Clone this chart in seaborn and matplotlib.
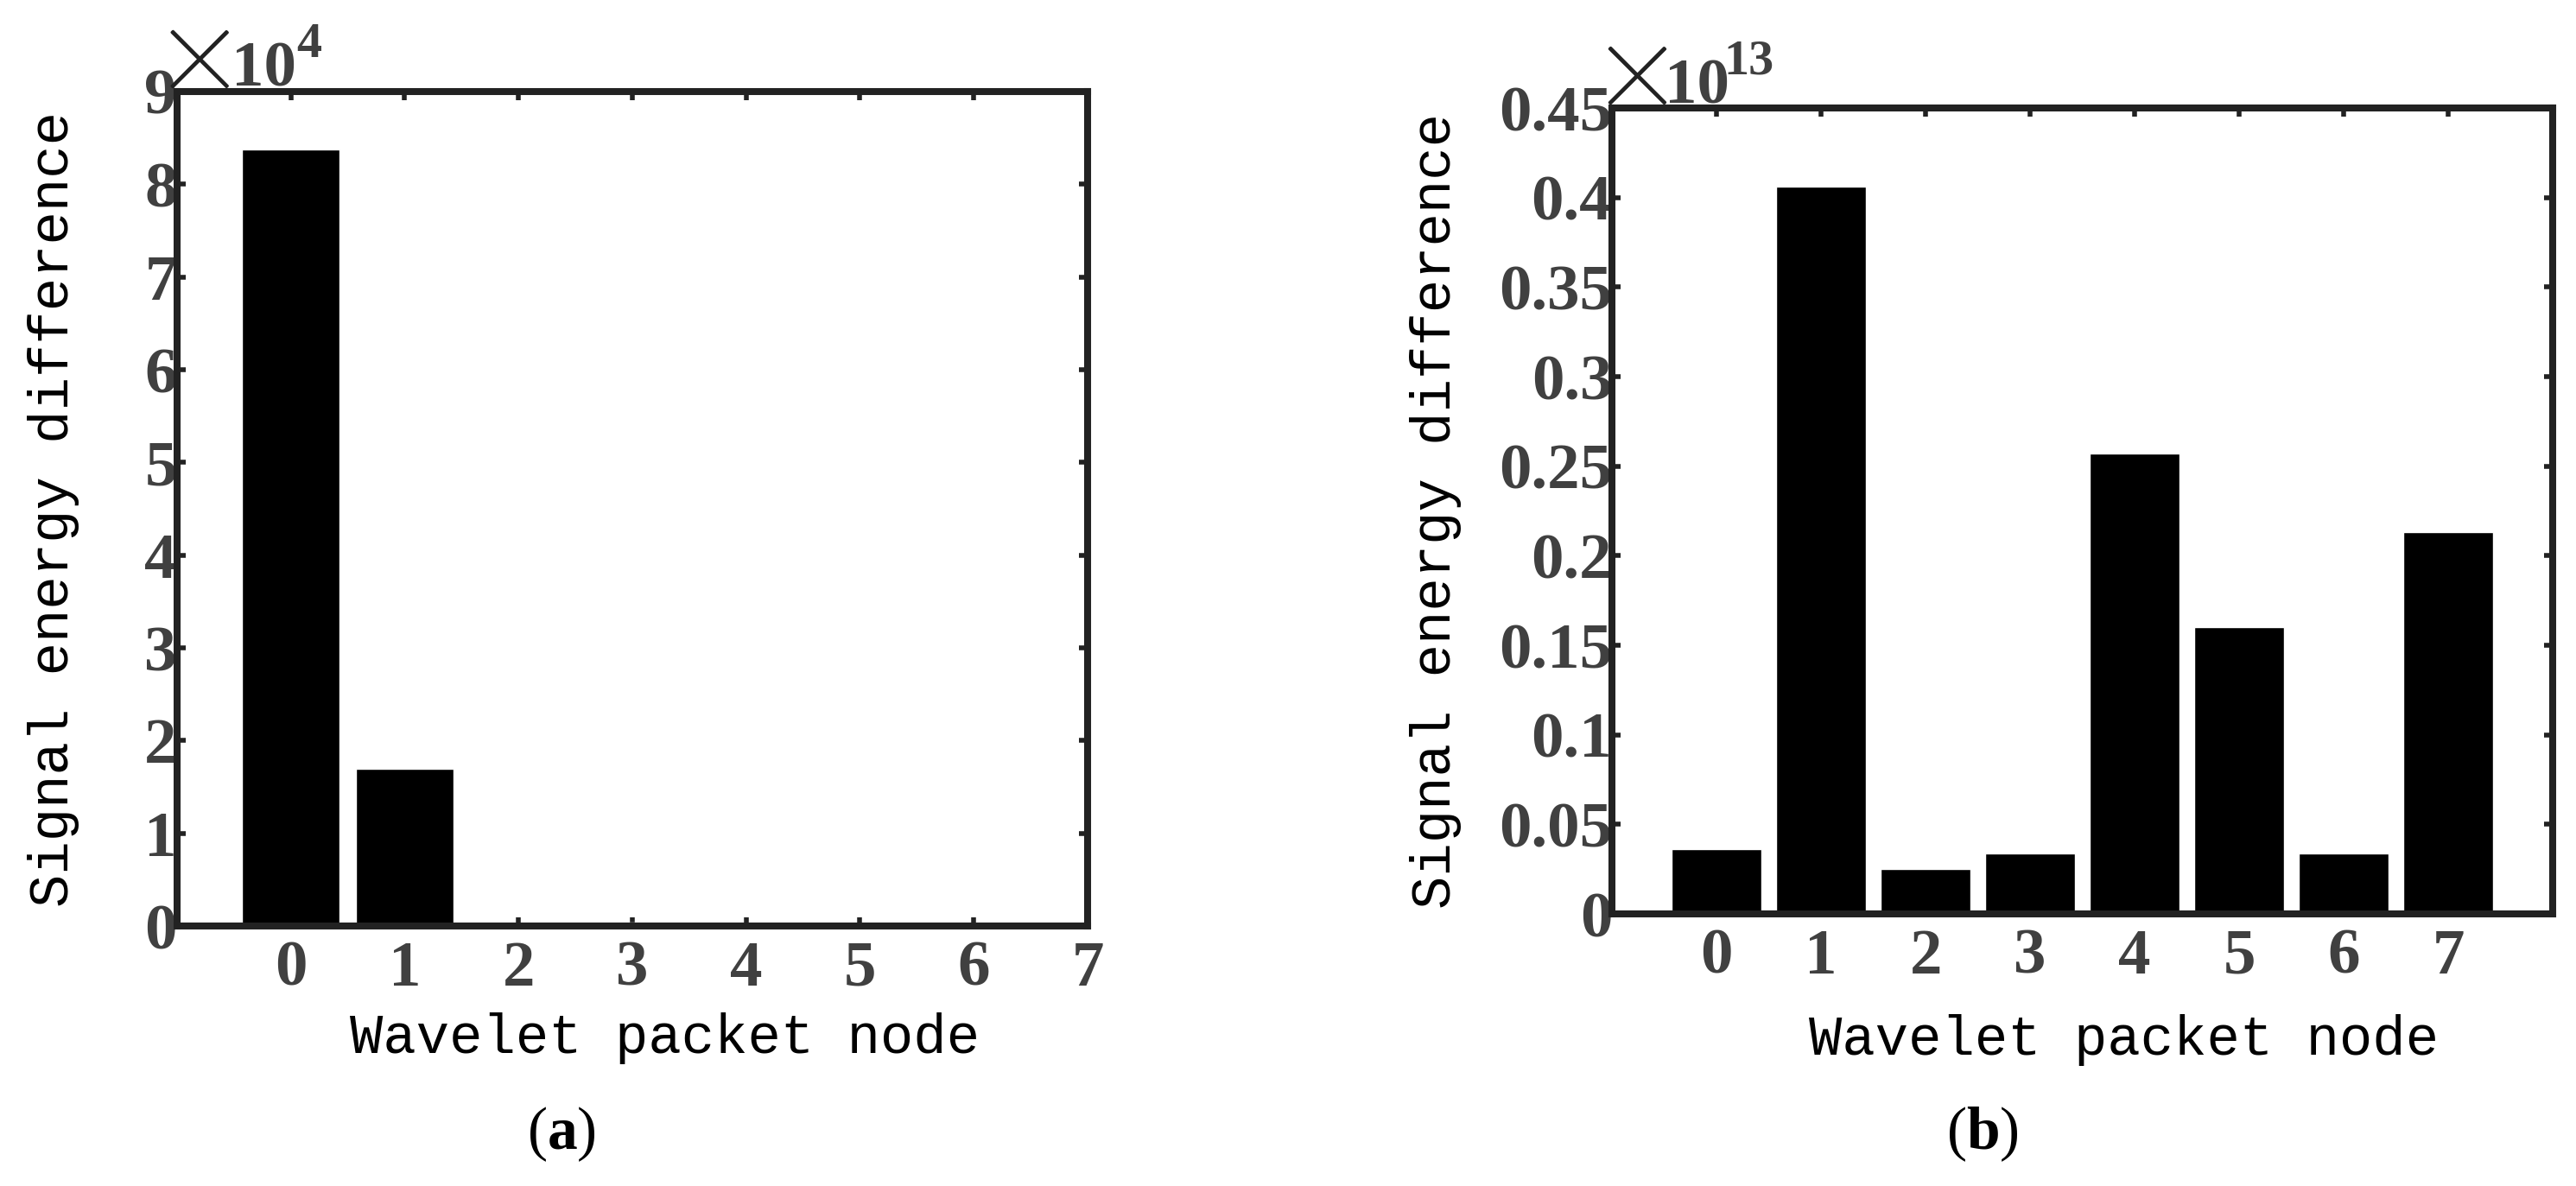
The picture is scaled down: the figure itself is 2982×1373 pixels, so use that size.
import matplotlib
matplotlib.use('Agg')
import matplotlib.pyplot as plt
import matplotlib.patheffects as pe
import seaborn as sns

# Data
nodes = [0, 1, 2, 3, 4, 5, 6, 7]
energy_a = [8.38e4, 1.70e4, 200, 350, 100, 100, 100, 100]
energy_b = [0.036e13, 0.406e13, 0.025e13, 0.034e13, 0.257e13, 0.160e13, 0.034e13, 0.213e13]
scale_a = 1e4
scale_b = 1e13
yticks_a = [0, 1, 2, 3, 4, 5, 6, 7, 8, 9]
yticks_b = [0, 0.05, 0.1, 0.15, 0.2, 0.25, 0.3, 0.35, 0.4, 0.45]
ylabels_b = ['0', '0.05', '0.1', '0.15', '0.2', '0.25', '0.3', '0.35', '0.4', '0.45']
xlabel = 'Wavelet packet node'
ylabel = 'Signal energy difference'

sns.set_style('ticks')
plt.rcParams['font.family'] = ['Liberation Serif', 'DejaVu Sans']
plt.rcParams['mathtext.fontset'] = 'custom'
plt.rcParams['mathtext.rm'] = 'Liberation Serif'
plt.rcParams['mathtext.bf'] = 'Liberation Serif:bold'

SPINE = '#222222'
TICKTXT = '#404040'


def style_axes(ax, yticks, ylabels, ylim, xlim):
    ax.set_xlim(*xlim)
    ax.set_ylim(*ylim)
    ax.set_xticks(nodes)
    ax.set_xticklabels([str(n) for n in nodes])
    ax.set_yticks(yticks)
    ax.set_yticklabels(ylabels)
    for s in ax.spines.values():
        s.set_visible(True)
        s.set_color(SPINE)
        s.set_linewidth(5.8)
    ax.tick_params(axis='both', direction='in', top=True, right=True,
                   length=7, width=4, color=SPINE, labelcolor=TICKTXT,
                   labelsize=54)
    ax.tick_params(axis='y', pad=0)
    ax.tick_params(axis='x', pad=12)
    for lab in ax.get_xticklabels() + ax.get_yticklabels():
        lab.set_fontweight('bold')
        lab.set_family('Liberation Serif')
    ax.set_xlabel(xlabel, family='Liberation Mono', fontsize=46, color='black')
    ax.set_ylabel(ylabel, family='Liberation Mono', fontsize=46, color='black')


def multiplier(ax, exponent, dx_cross, dx_ten, dx_exp):
    # the "x10^n" factor drawn above the top-left corner of the axes
    ax.annotate('\u00d7', xy=(0, 1), xycoords='axes fraction',
                xytext=(dx_cross, -16), textcoords='offset pixels',
                ha='left', va='baseline', fontsize=115, color=SPINE,
                family='Lato', fontweight='light', annotation_clip=False,
                path_effects=[pe.withStroke(linewidth=2.2, foreground=SPINE)])
    ax.annotate('10', xy=(0, 1), xycoords='axes fraction',
                xytext=(dx_ten, 6), textcoords='offset pixels',
                ha='left', va='baseline', fontsize=54, color=TICKTXT,
                fontweight='bold', family='Liberation Serif', annotation_clip=False)
    ax.annotate(exponent, xy=(0, 1), xycoords='axes fraction',
                xytext=(dx_exp, 40), textcoords='offset pixels',
                ha='left', va='baseline', fontsize=42, color=TICKTXT,
                fontweight='bold', family='Liberation Serif', annotation_clip=False)


fig = plt.figure(figsize=(29.82, 13.73), dpi=100)
ax_a = fig.add_axes([0.0687, 0.2192, 0.3535, 0.7036])
ax_b = fig.add_axes([0.6258, 0.2294, 0.3652, 0.6795])

sns.barplot(x=nodes, y=[v / scale_a for v in energy_a], color='black',
            saturation=1, width=0.86, ax=ax_a)
sns.barplot(x=nodes, y=[v / scale_b for v in energy_b], color='black',
            saturation=1, width=0.86, ax=ax_b)

style_axes(ax_a, yticks_a, [str(t) for t in yticks_a], (0, 9), (-1, 7))
style_axes(ax_b, yticks_b, ylabels_b, (0, 0.45), (-1, 8))

ax_a.xaxis.set_label_coords(0.536, -0.103)
ax_b.xaxis.set_label_coords(0.544, -0.124)
ax_a.yaxis.set_label_coords(-0.107, 0.5)
ax_b.yaxis.set_label_coords(-0.160, 0.5)

multiplier(ax_a, '4', -20, 63, 138)
multiplier(ax_b, '13', -17, 61, 129)

fig.text(0.218, 0.0437, r'($\mathbf{a}$)', ha='center', va='center', fontsize=50,
         family='Liberation Serif', color='black')
fig.text(0.7696, 0.0437, r'($\mathbf{b}$)', ha='center', va='center', fontsize=50,
         family='Liberation Serif', color='black')

fig.savefig('out.png', dpi=100, facecolor='white')
